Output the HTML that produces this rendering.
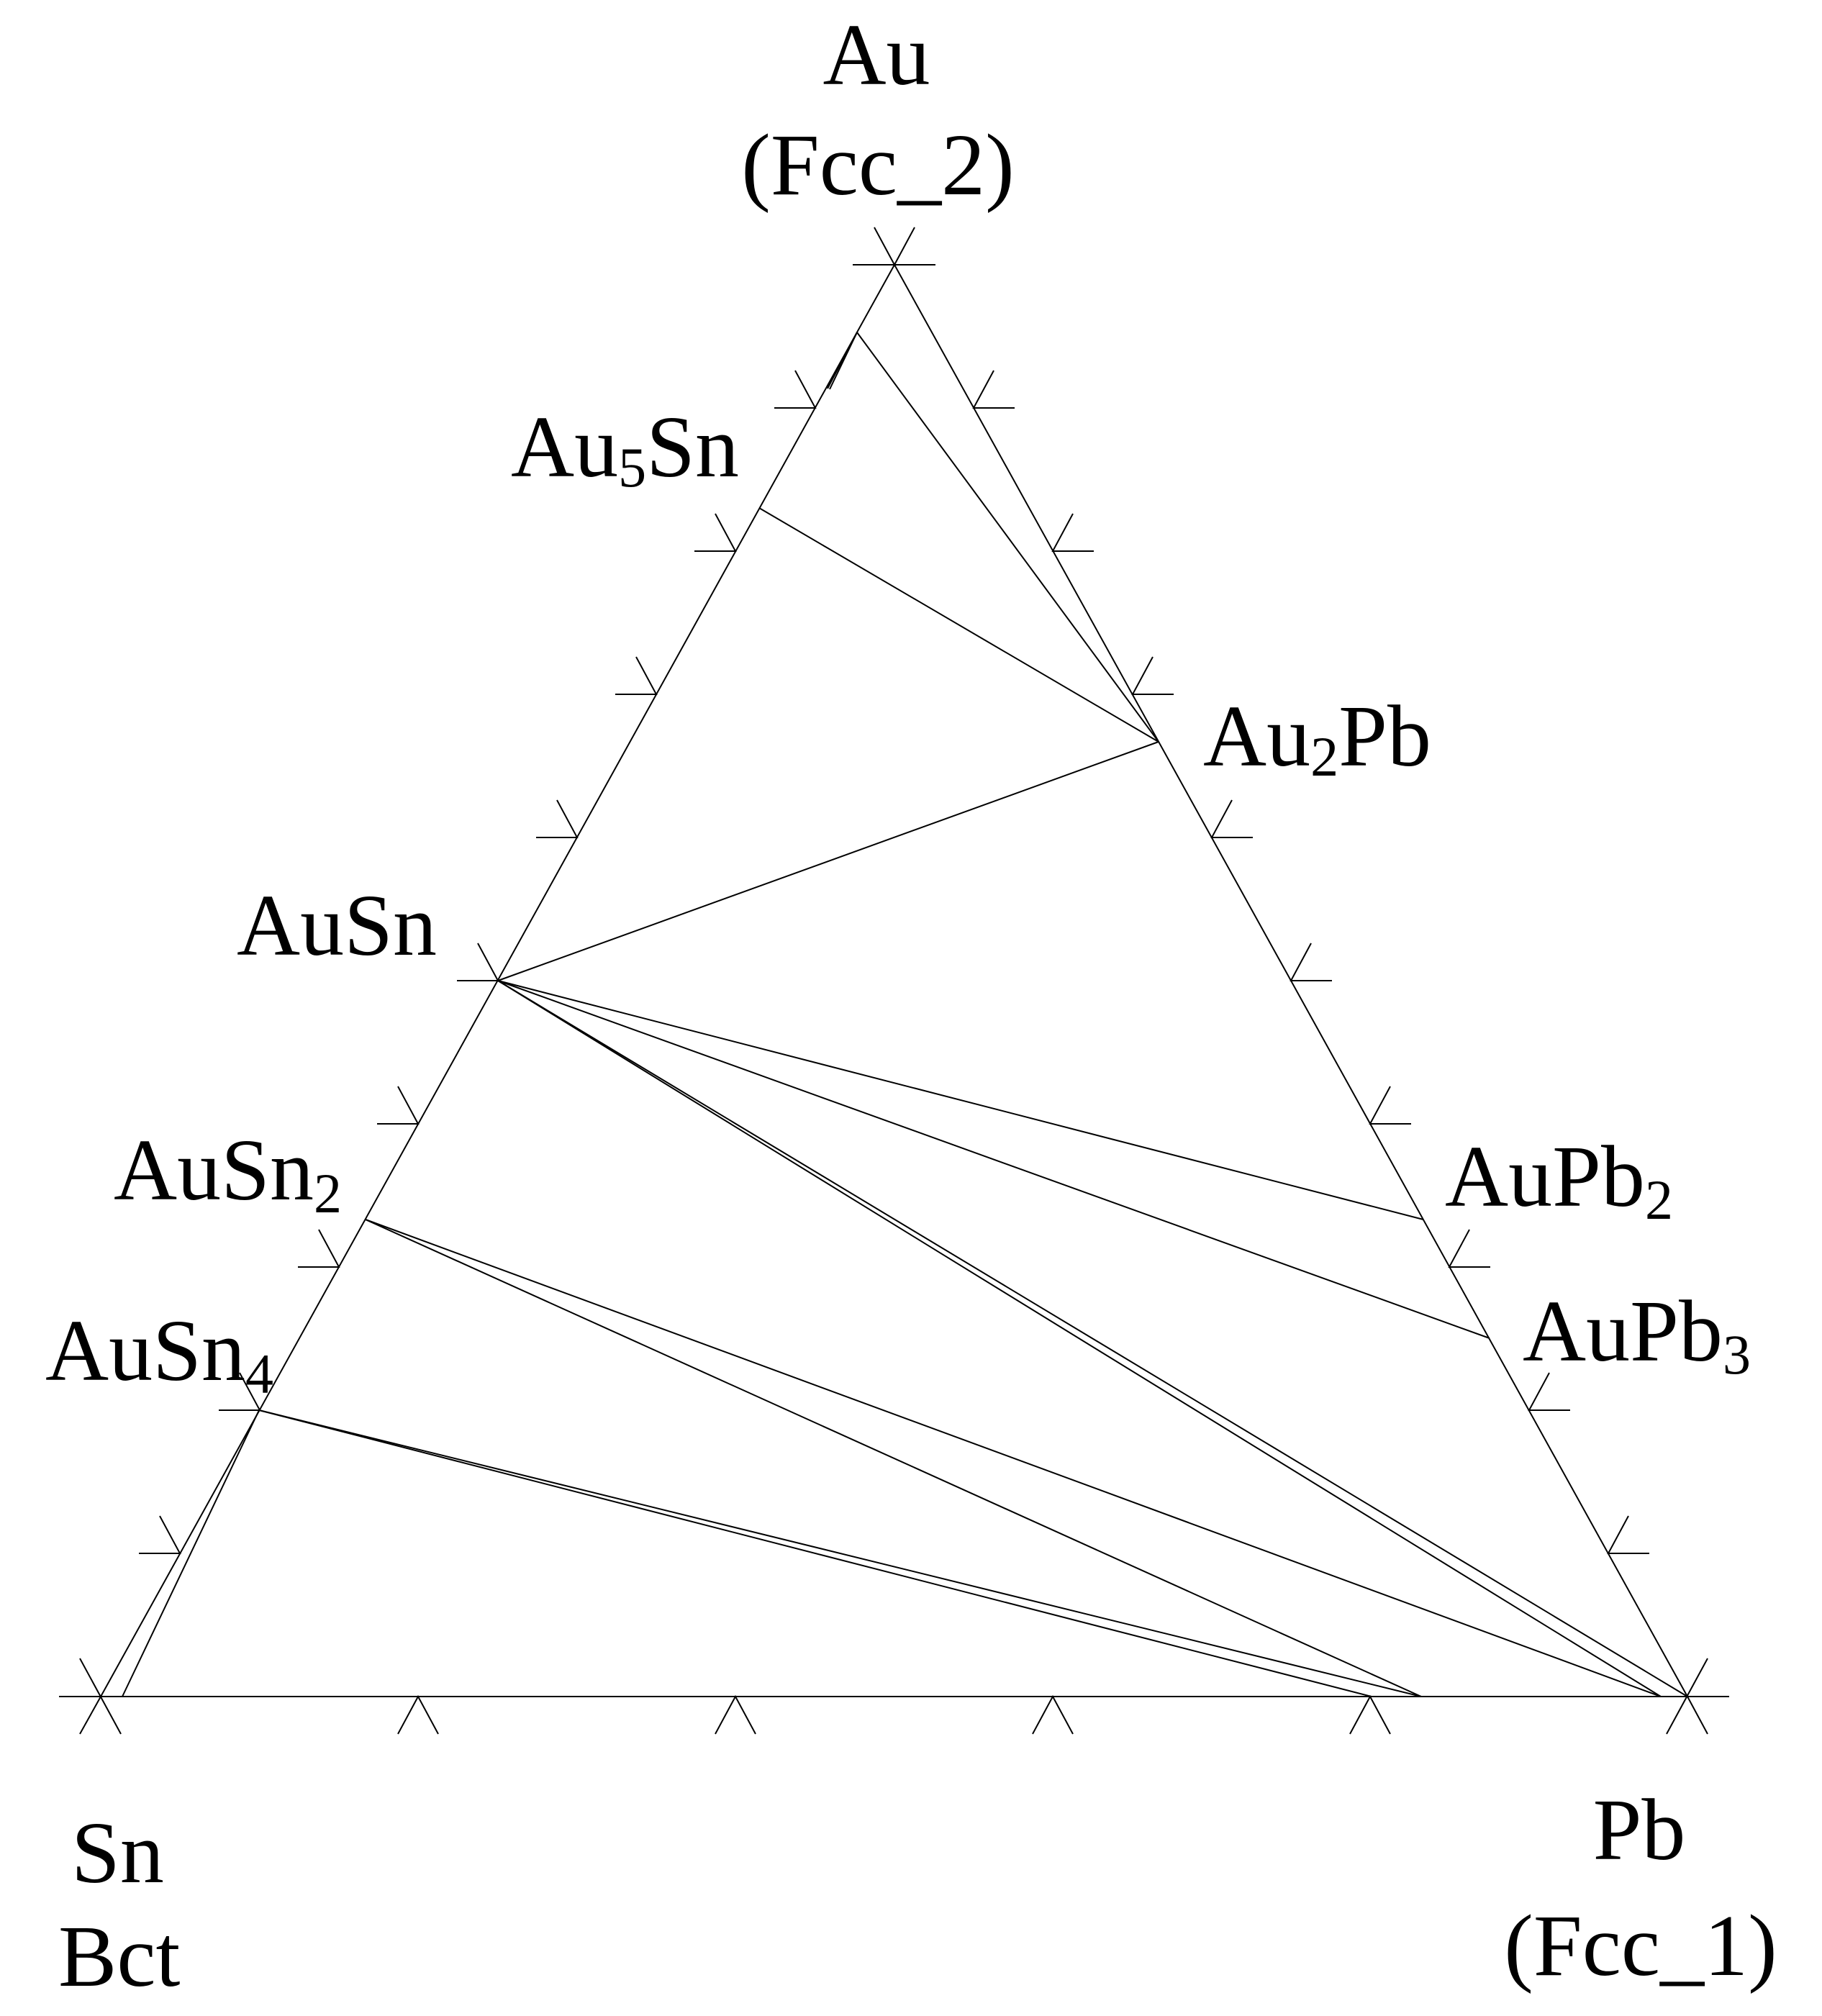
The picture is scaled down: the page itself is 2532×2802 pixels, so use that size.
<!DOCTYPE html>
<html><head><meta charset="utf-8"><style>html,body{margin:0;padding:0;background:#fff}svg{display:block}</style></head>
<body>
<svg width="2532" height="2802" viewBox="0 0 2532 2802" xmlns="http://www.w3.org/2000/svg">
<g stroke="#000" stroke-width="2" fill="none">
<polygon points="1243,368 140,2358 2345,2358"/>
<!-- apex -->
<line x1="1215" y1="316" x2="1243" y2="368"/>
<line x1="1271" y1="316" x2="1243" y2="368"/>
<line x1="1185" y1="368" x2="1300" y2="368"/>
<!-- base & corners -->
<line x1="82" y1="2358" x2="2403" y2="2358"/>
<line x1="111" y1="2305" x2="168" y2="2410"/>
<line x1="140" y1="2358" x2="111" y2="2410"/>
<line x1="2373" y1="2305" x2="2316" y2="2410"/>
<line x1="2345" y1="2358" x2="2373" y2="2410"/>
<!-- base ticks -->
<polyline points="553,2410 581,2358 609,2410"/>
<polyline points="994,2410 1022,2358 1050,2410"/>
<polyline points="1435,2410 1463,2358 1491,2410"/>
<polyline points="1876,2410 1904,2358 1932,2410"/>
<!-- left ticks -->
<polyline points="193,2159 250,2159 222,2107"/>
<polyline points="304,1960 361,1960 333,1908"/>
<polyline points="414,1761 471,1761 443,1709"/>
<polyline points="524,1562 581,1562 553,1510"/>
<polyline points="635,1363 692,1363 664,1311"/>
<polyline points="745,1164 802,1164 774,1112"/>
<polyline points="855,965 912,965 884,913"/>
<polyline points="965,766 1022,766 994,714"/>
<polyline points="1076,567 1133,567 1105,515"/>
<!-- right ticks -->
<polyline points="2292,2159 2235,2159 2263,2107"/>
<polyline points="2182,1960 2125,1960 2153,1908"/>
<polyline points="2071,1761 2014,1761 2042,1709"/>
<polyline points="1961,1562 1904,1562 1932,1510"/>
<polyline points="1851,1363 1794,1363 1822,1311"/>
<polyline points="1741,1164 1684,1164 1712,1112"/>
<polyline points="1631,965 1574,965 1602,913"/>
<polyline points="1520,766 1463,766 1491,714"/>
<polyline points="1410,567 1353,567 1381,515"/>
<!-- tie lines -->
<line x1="1191" y1="462" x2="1610" y2="1031"/>
<line x1="1191" y1="462" x2="1150" y2="540"/>
<line x1="1191" y1="462" x2="1153" y2="541"/>
<line x1="1055" y1="706" x2="1610" y2="1031"/>
<line x1="692" y1="1363" x2="1610" y2="1031"/>
<line x1="692" y1="1363" x2="1978" y2="1695"/>
<line x1="692" y1="1363" x2="2070" y2="1860"/>
<line x1="692" y1="1363" x2="2345" y2="2358"/>
<line x1="692" y1="1363" x2="2308" y2="2358"/>
<line x1="508" y1="1695" x2="2308" y2="2358"/>
<line x1="508" y1="1695" x2="1975" y2="2358"/>
<line x1="360" y1="1960" x2="1975" y2="2358"/>
<line x1="360" y1="1960" x2="1906" y2="2358"/>
<line x1="360" y1="1960" x2="170" y2="2358"/>
</g>
<g font-family="'Liberation Serif', serif" font-size="122" fill="#000">
<text x="1218" y="117" text-anchor="middle">Au</text>
<text x="1220" y="270" text-anchor="middle">(Fcc_2)</text>
<text x="710" y="662">Au<tspan font-size="78" dy="14">5</tspan><tspan dy="-14">Sn</tspan></text>
<text x="1672" y="1064">Au<tspan font-size="78" dy="14">2</tspan><tspan dy="-14">Pb</tspan></text>
<text x="329" y="1327">AuSn</text>
<text x="158" y="1667">AuSn<tspan font-size="78" dy="18">2</tspan></text>
<text x="63" y="1918">AuSn<tspan font-size="78" dy="18">4</tspan></text>
<text x="2008" y="1676">AuPb<tspan font-size="78" dy="18">2</tspan></text>
<text x="2116" y="1891">AuPb<tspan font-size="78" dy="18">3</tspan></text>
<text x="99" y="2616">Sn</text>
<text x="81" y="2760">Bct</text>
<text x="2278" y="2584" text-anchor="middle">Pb</text>
<text x="2280" y="2745" text-anchor="middle">(Fcc_1)</text>
</g>
</svg>
</body></html>
